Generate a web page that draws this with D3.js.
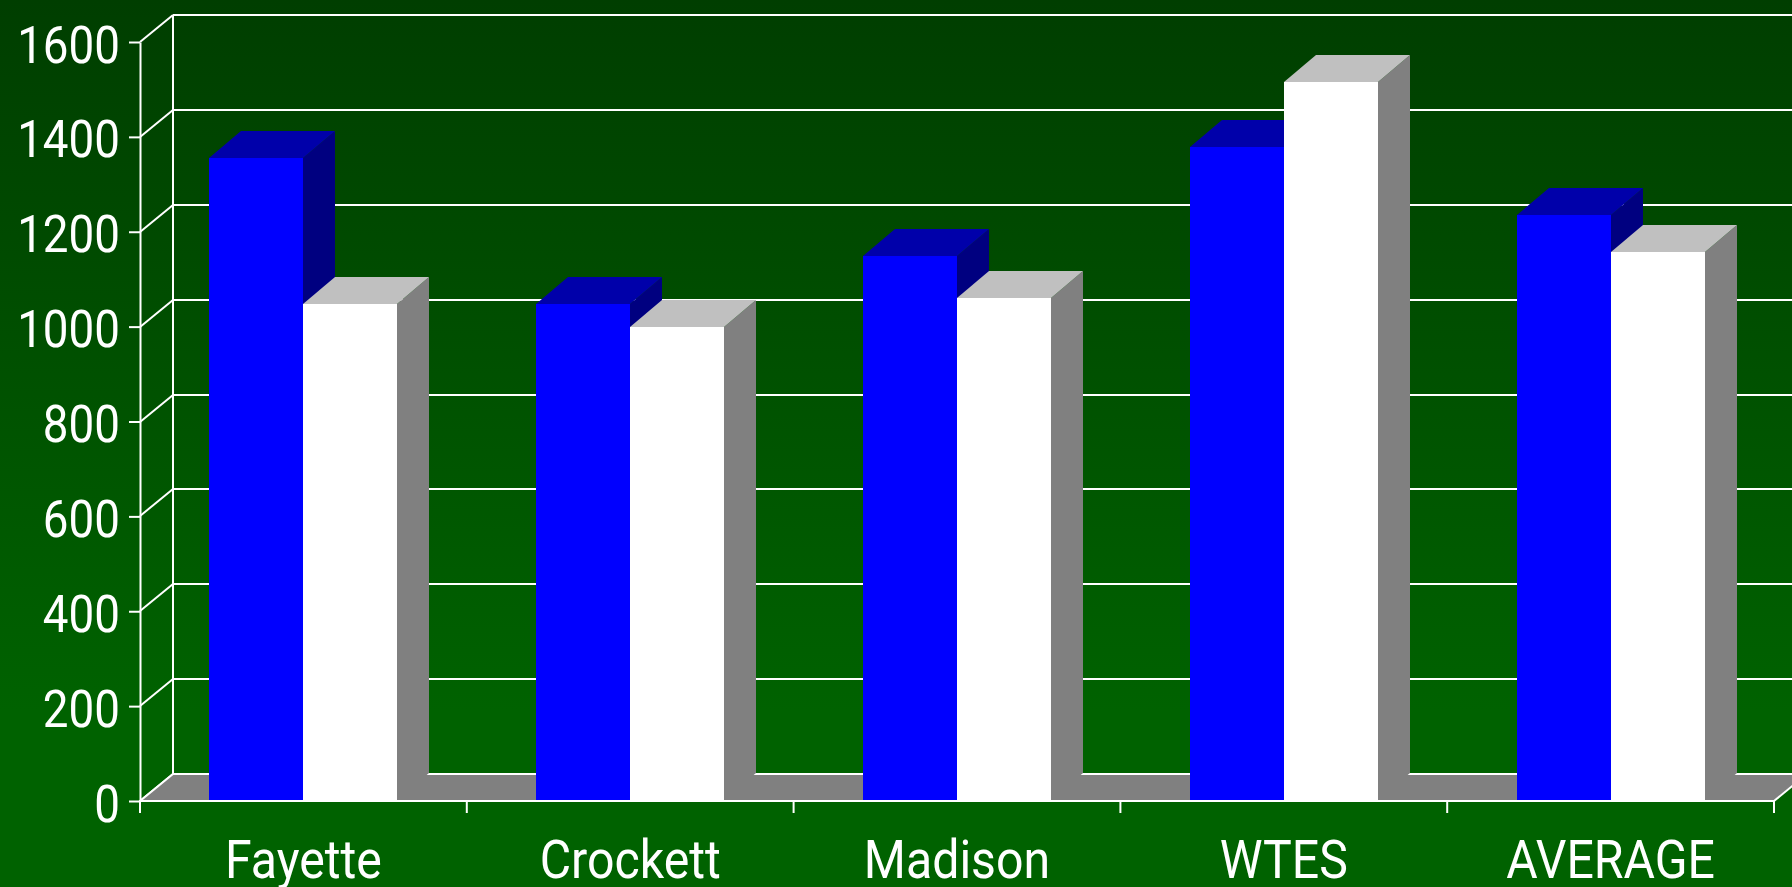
<!DOCTYPE html>
<html><head><meta charset="utf-8">
<style>html,body{margin:0;padding:0;background:#006200;overflow:hidden}svg{display:block}
text{font-family:Roboto,"Liberation Sans",sans-serif;font-weight:400;fill:#fff}</style>
<script src="https://cdn.jsdelivr.net/npm/d3@7"></script></head><body>
<script>
const categories = ["Fayette","Crockett","Madison","WTES","AVERAGE"];
const seriesA = [1355,1048,1148,1378,1236];
const seriesB = [1048,1000,1061,1516,1158];
const yTicks = [0,200,400,600,800,1000,1200,1400,1600];

const W=1792,H=887,dx=33,dy=-27,bdx=32;
const svg=d3.select("body").append("svg").attr("width",W).attr("height",H);
const defs=svg.append("defs");
const g=defs.append("linearGradient").attr("id","bg").attr("x1",0).attr("x2",0).attr("y1",0).attr("y2",1);
g.append("stop").attr("offset",0).attr("stop-color","#003e00");
g.append("stop").attr("offset",0.8).attr("stop-color","#006200");
g.append("stop").attr("offset",1).attr("stop-color","#006200");
svg.append("rect").attr("width",W).attr("height",H).attr("fill","url(#bg)");

const y0=d3.scaleLinear().domain([0,1600]).range([801,42]);
const y=v=>Math.round(y0(v));
const x=d3.scaleBand().domain(categories).range([140,1774]).paddingInner(0.425).paddingOuter(0.2125);
const x1=d3.scaleBand().domain([0,1]).range([0,x.bandwidth()]);
const x0=x.range()[0],x9=x.range()[1];

const wall=svg.append("g").attr("stroke","#fff").attr("stroke-width",2).attr("fill","none");
wall.selectAll("line.g").data(yTicks.filter(d=>d>0)).join("line").attr("class","g")
 .attr("x1",x0+dx).attr("x2",W).attr("y1",d=>y(d)+dy).attr("y2",d=>y(d)+dy);
wall.selectAll("line.d").data(yTicks).join("line").attr("class","d")
 .attr("x1",x0).attr("x2",x0+dx).attr("y1",d=>y(d)).attr("y2",d=>y(d)+dy);
wall.append("line").attr("x1",x0+dx).attr("x2",x0+dx).attr("y1",y(0)+dy).attr("y2",y(1600)+dy);

svg.append("path").attr("fill","#808080")
 .attr("d",d3.line()([[x0,y(0)],[x0+dx,y(0)+dy],[x9+dx,y(0)+dy],[x9,y(0)]]));
const edges=[[x0+dx,y(0)+dy,W,y(0)+dy],[x0,y(0),x0+dx,y(0)+dy],[x9,y(0),x9+dx,y(0)+dy]];
svg.append("g").attr("stroke","#fff").attr("stroke-width",2).selectAll("line").data(edges).join("line")
 .attr("x1",d=>d[0]).attr("y1",d=>d[1]).attr("x2",d=>d[2]).attr("y2",d=>d[3]);

const styles=[{front:"#0000ff",top:"#0000aa",side:"#000080"},{front:"#ffffff",top:"#c0c0c0",side:"#808080"}];
const poly=d3.line();
function bar(sel,cat,i,v){
  const s=styles[i],l=Math.round(x(cat)+x1(i)),r=Math.round(x(cat)+x1(i)+x1.bandwidth()),t=y(v),b=y(0)-1;
  sel.append("path").attr("fill",s.side).attr("d",poly([[r,t],[r+bdx,t+dy],[r+bdx,b+dy],[r,b]]));
  sel.append("path").attr("fill",s.top).attr("d",poly([[l,t],[l+bdx,t+dy],[r+bdx,t+dy],[r,t]]));
  sel.append("rect").attr("fill",s.front).attr("x",l).attr("y",t).attr("width",r-l).attr("height",b-t);
}
categories.forEach((c,k)=>{
  const gc=svg.append("g");
  bar(gc,c,0,seriesA[k]);
  bar(gc,c,1,seriesB[k]);
});

const sxY=0.88, sxX=0.91;
const yAxis=svg.append("g").attr("transform",`translate(${x0},0)`)
 .call(d3.axisLeft(y0).tickValues(yTicks).tickFormat(d3.format("d")).tickSize(11).tickPadding(10).tickSizeOuter(0));
yAxis.select(".domain").attr("stroke","#fff").attr("stroke-width",2);
yAxis.selectAll("line").attr("stroke","#fff").attr("stroke-width",2);
yAxis.selectAll("text").attr("font-size",52).attr("font-family",null).style("fill","#fff")
 .attr("dy",0).attr("x",0).attr("y",0)
 .attr("transform",`translate(-20,20) scale(${sxY},1)`);

const xAxis=svg.append("g").attr("transform",`translate(0,${y(0)})`)
 .call(d3.axisBottom(x).tickSize(0).tickPadding(0));
xAxis.select(".domain").remove();
xAxis.selectAll("line").remove();
xAxis.selectAll("text").attr("font-size",53).attr("font-family",null).style("fill","#fff")
 .attr("dy",0).attr("y",0).attr("transform",`translate(0,77) scale(${sxX},1)`);
svg.append("line").attr("stroke","#fff").attr("stroke-width",2).attr("x1",x0-1).attr("x2",x9+1).attr("y1",y(0)).attr("y2",y(0));
const step=x.step();
svg.append("g").attr("stroke","#fff").attr("stroke-width",2).selectAll("line")
 .data(d3.range(categories.length+1)).join("line")
 .attr("x1",i=>x0+i*step).attr("x2",i=>x0+i*step).attr("y1",y(0)).attr("y2",y(0)+12);
</script></body></html>
